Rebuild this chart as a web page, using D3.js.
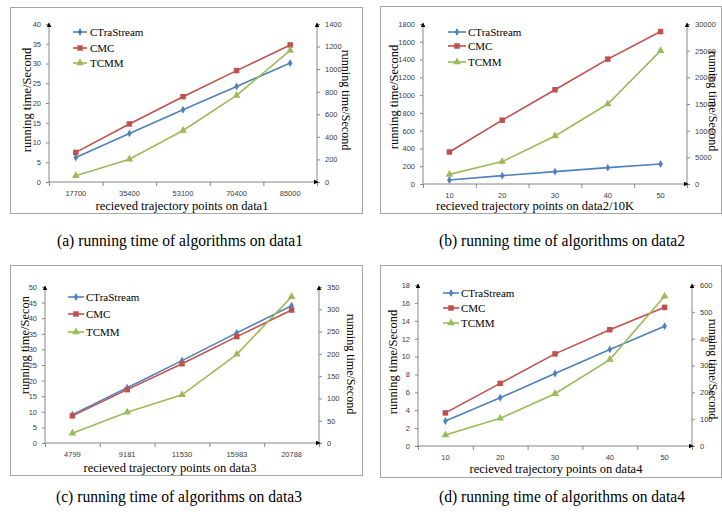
<!DOCTYPE html>
<html>
<head>
<meta charset="utf-8">
<script src="https://cdn.jsdelivr.net/npm/d3@7"></script>
<style>
  body { margin: 0; background: #fff; }
  svg { display: block; }
  .serif { font-family: "Liberation Serif", "Times New Roman", serif; }
</style>
</head>
<body>
<div id="chart"></div>
<script>
// series names and colours (Excel 2007 defaults)
const seriesNames = ["CTraStream", "CMC", "TCMM"];
const seriesColors = ["#4f81bd", "#c0504d", "#9bbb59"];

// (a) data1
const cats1 = ["17700", "35400", "53100", "70400", "85000"];
const ctra1 = [6.2, 12.3, 18.3, 24.2, 30.1];
const cmc1 = [7.5, 14.7, 21.6, 28.2, 34.7];
const tcmm1 = [56, 201, 456, 767, 1166];          // right axis
const left1 = [0, 5, 10, 15, 20, 25, 30, 35, 40];
const right1 = [0, 200, 400, 600, 800, 1000, 1200, 1400];

// (b) data2
const cats2 = ["10", "20", "30", "40", "50"];
const ctra2 = [45, 94, 139, 184, 225];
const cmc2 = [360, 718, 1060, 1405, 1715];
const tcmm2 = [1800, 4200, 9000, 15000, 25000];  // right axis
const left2 = [0, 200, 400, 600, 800, 1000, 1200, 1400, 1600, 1800];
const right2 = [0, 5000, 10000, 15000, 20000, 25000, 30000];

// (c) data3
const cats3 = ["4799", "9181", "11530", "15983", "20788"];
const ctra3 = [9.1, 17.7, 26.4, 35.3, 44.0];
const cmc3 = [8.7, 17.1, 25.4, 34.1, 42.6];
const tcmm3 = [22, 69, 108, 199, 328];            // right axis
const left3 = [0, 5, 10, 15, 20, 25, 30, 35, 40, 45, 50];
const right3 = [0, 50, 100, 150, 200, 250, 300, 350];

// (d) data4
const cats4 = ["10", "20", "30", "40", "50"];
const ctra4 = [2.8, 5.4, 8.1, 10.8, 13.4];
const cmc4 = [3.7, 7.0, 10.3, 13.0, 15.5];
const tcmm4 = [41, 103, 195, 322, 558];           // right axis
const left4 = [0, 2, 4, 6, 8, 10, 12, 14, 16, 18];
const right4 = [0, 100, 200, 300, 400, 500, 600];

const xTitles = [
  "recieved trajectory points on data1",
  "recieved trajectory points on data2/10K",
  "recieved trajectory points on data3",
  "recieved trajectory points on data4"
];
const leftTitles = ["running time/Second", "running time/Second", "running time/Secon", "running time/Second"];
const rightTitle = "running time/Second";
const captions = [
  "(a) running time of algorithms on data1",
  "(b) running time of algorithms on data2",
  "(c) running time of algorithms on data3",
  "(d) running time of algorithms on data4"
];

// page layout for each panel
const layout = [
  { box: [10, 7, 352, 206], l: 49, r: 317, t: 24, b: 182, leg: [73, 87, 90, [32, 48, 63]],
    xt: [182, 206], lt: [27, 100], rt: [346, 100], cap: [180, 240] },
  { box: [380, 6, 341, 207], l: 423, r: 687, t: 24, b: 184, leg: [448, 466, 468, [32, 46, 62]],
    xt: [535, 206], lt: [394, 97], rt: [713, 101], cap: [562, 240] },
  { box: [10, 265, 352, 210], l: 45, r: 319, t: 287, b: 443, leg: [68, 84, 86, [297, 314, 332]],
    xt: [170, 468], lt: [25, 345], rt: [351, 364], cap: [179, 496] },
  { box: [380, 265, 341, 212], l: 418, r: 692, t: 285, b: 446, leg: [443, 459, 461, [293, 308, 323]],
    xt: [556, 469], lt: [393, 362], rt: [713, 369], cap: [562, 496] }
];

const panels = [
  { cats: cats1, vals: [ctra1, cmc1, tcmm1], left: left1, right: right1 },
  { cats: cats2, vals: [ctra2, cmc2, tcmm2], left: left2, right: right2 },
  { cats: cats3, vals: [ctra3, cmc3, tcmm3], left: left3, right: right3 },
  { cats: cats4, vals: [ctra4, cmc4, tcmm4], left: left4, right: right4 }
];

const svg = d3.select("#chart").append("svg")
  .attr("width", 722)
  .attr("height", 514);

svg.append("rect").attr("width", 722).attr("height", 514).attr("fill", "#fff");

// arrow head for axis ends
svg.append("defs").append("marker")
  .attr("id", "arrow")
  .attr("viewBox", "0 0 8 8")
  .attr("refX", 7).attr("refY", 4)
  .attr("markerWidth", 5).attr("markerHeight", 5)
  .attr("markerUnits", "userSpaceOnUse")
  .attr("orient", "auto")
  .append("path")
  .attr("d", "M0,0L8,4L0,8z")
  .attr("fill", "#000");

const markerTypes = [d3.symbolDiamond, d3.symbolSquare, d3.symbolTriangle];
const markerSizes = [18, 30, 26];

panels.forEach(function (p, i) {
  const L = layout[i];
  const g = svg.append("g");

  // outer frame
  g.append("rect")
    .attr("x", L.box[0] + 0.5).attr("y", L.box[1] + 0.5)
    .attr("width", L.box[2]).attr("height", L.box[3])
    .attr("fill", "none")
    .attr("stroke", "#a6a6a6");

  const x = d3.scaleBand().domain(p.cats).range([L.l, L.r]).padding(0);
  const xEdge = d3.scaleLinear().domain([0, p.cats.length]).range([L.l, L.r]);
  const yL = d3.scaleLinear().domain([0, d3.max(p.left)]).range([L.b, L.t]);
  const yR = d3.scaleLinear().domain([0, d3.max(p.right)]).range([L.b, L.t]);
  const cx = function (c) { return x(c) + x.bandwidth() / 2; };
  const fmt = d3.format("d");

  // left axis
  const ax1 = g.append("g")
    .attr("transform", "translate(" + L.l + ",0)")
    .call(d3.axisLeft(yL).tickValues(p.left).tickFormat(fmt).tickSize(3).tickPadding(5));
  // right axis
  const ax2 = g.append("g")
    .attr("transform", "translate(" + L.r + ",0)")
    .call(d3.axisRight(yR).tickValues(p.right).tickFormat(fmt).tickSize(3).tickPadding(5));
  // bottom axis: labels at category centres, ticks at boundaries
  const ax3 = g.append("g")
    .attr("transform", "translate(0," + L.b + ")")
    .call(d3.axisBottom(x).tickSize(0).tickPadding(9));
  const ax4 = g.append("g")
    .attr("transform", "translate(0," + L.b + ")")
    .call(d3.axisBottom(xEdge).tickValues(d3.range(p.cats.length + 1)).tickFormat("").tickSize(4));

  [ax1, ax2, ax3, ax4].forEach(function (a) {
    a.select(".domain").remove();
    a.selectAll("line").attr("stroke", "#868686");
    a.selectAll("text")
      .attr("fill", "#404040")
      .style("font-family", "'Liberation Sans', Arial, sans-serif")
      .style("font-size", "7.5px");
  });

  // axis lines with arrow heads
  g.append("line").attr("x1", L.l).attr("x2", L.l).attr("y1", L.b).attr("y2", L.t - 1)
    .attr("stroke", "#868686").attr("marker-end", "url(#arrow)");
  g.append("line").attr("x1", L.r).attr("x2", L.r).attr("y1", L.b).attr("y2", L.t - 1)
    .attr("stroke", "#868686").attr("marker-end", "url(#arrow)");
  g.append("line").attr("x1", L.l).attr("x2", L.r + 1).attr("y1", L.b).attr("y2", L.b)
    .attr("stroke", "#868686").attr("marker-end", "url(#arrow)");

  // series lines and markers
  p.vals.forEach(function (vals, s) {
    const y = s === 2 ? yR : yL;
    const pts = p.cats.map(function (c, k) { return [cx(c), y(vals[k])]; });
    g.append("path")
      .attr("d", d3.line()(pts))
      .attr("fill", "none")
      .attr("stroke", seriesColors[s])
      .attr("stroke-width", 1.6);
    g.selectAll(null)
      .data(pts)
      .enter()
      .append("path")
      .attr("transform", function (d) { return "translate(" + d[0] + "," + d[1] + ")"; })
      .attr("d", d3.symbol().type(markerTypes[s]).size(markerSizes[s]))
      .attr("fill", seriesColors[s]);
  });

  // legend
  seriesNames.forEach(function (name, s) {
    const ly = L.leg[3][s];
    g.append("line")
      .attr("x1", L.leg[0]).attr("x2", L.leg[1])
      .attr("y1", ly).attr("y2", ly)
      .attr("stroke", seriesColors[s]).attr("stroke-width", 1.6);
    g.append("path")
      .attr("transform", "translate(" + (L.leg[0] + L.leg[1]) / 2 + "," + ly + ")")
      .attr("d", d3.symbol().type(markerTypes[s]).size(markerSizes[s]))
      .attr("fill", seriesColors[s]);
    g.append("text")
      .attr("class", "serif")
      .attr("x", L.leg[2]).attr("y", ly)
      .attr("dy", "0.35em")
      .style("font-size", "11px")
      .attr("fill", "#000")
      .text(name);
  });

  // axis titles
  g.append("text")
    .attr("class", "serif")
    .attr("x", L.xt[0]).attr("y", L.xt[1])
    .attr("text-anchor", "middle").attr("dy", "0.35em")
    .style("font-size", "12.5px")
    .text(xTitles[i]);
  g.append("text")
    .attr("class", "serif")
    .attr("transform", "translate(" + L.lt[0] + "," + L.lt[1] + ") rotate(-90)")
    .attr("text-anchor", "middle").attr("dy", "0.35em")
    .style("font-size", "12.5px")
    .text(leftTitles[i]);
  g.append("text")
    .attr("class", "serif")
    .attr("transform", "translate(" + L.rt[0] + "," + L.rt[1] + ") rotate(90)")
    .attr("text-anchor", "middle").attr("dy", "0.35em")
    .style("font-size", "12px")
    .text(rightTitle);

  // caption below the panel
  svg.append("text")
    .attr("class", "serif")
    .attr("x", L.cap[0]).attr("y", L.cap[1])
    .attr("text-anchor", "middle").attr("dy", "0.35em")
    .attr("textLength", 246).attr("lengthAdjust", "spacingAndGlyphs")
    .style("font-size", "16px")
    .text(captions[i]);
});
</script>
</body>
</html>
